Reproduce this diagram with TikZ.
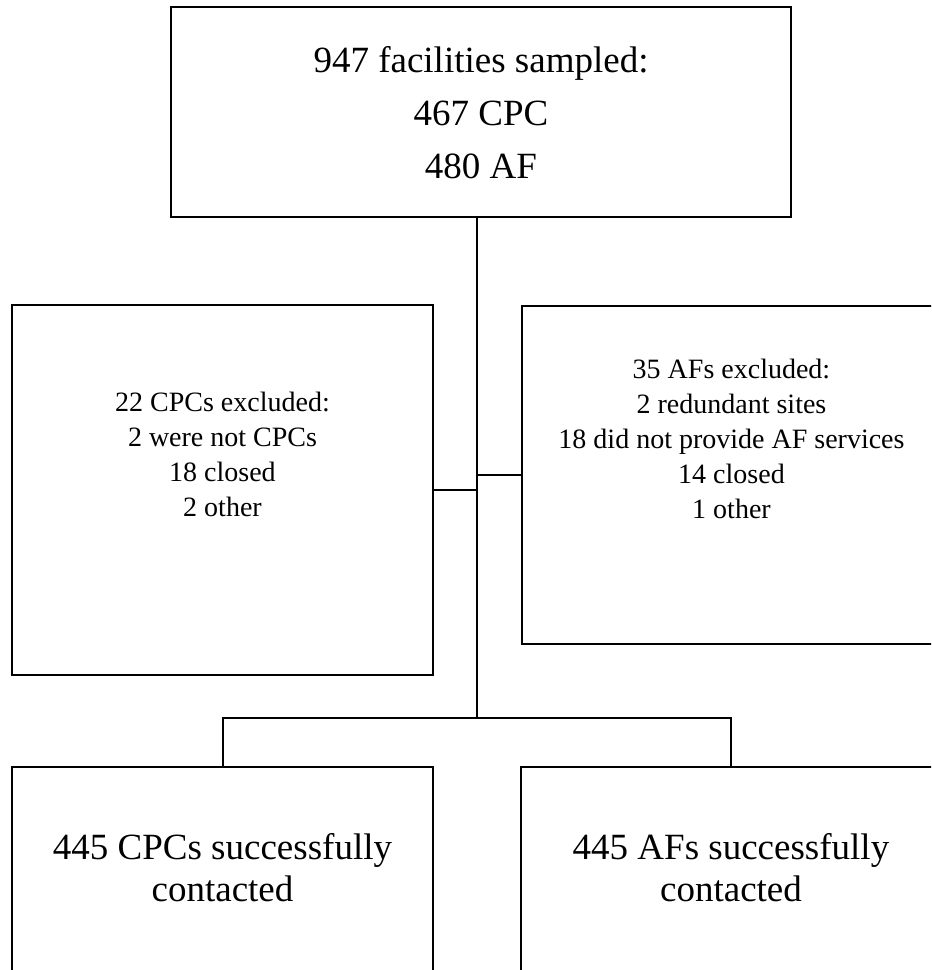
\documentclass[tikz,border=0pt]{standalone}
\usepackage{fontspec}
\setmainfont{Liberation Serif}
\begin{document}
\begin{tikzpicture}[x=0.75pt,y=-0.75pt,
  boxnode/.style={draw=black,line width=1.5pt,rectangle,inner sep=0pt,outer sep=0pt,fill=white},
  conn/.style={draw=black,line width=1.5pt},
  bigtext/.style={align=center,inner sep=0pt,font=\fontsize{27.75pt}{39.75pt}\selectfont},
  midtext/.style={align=center,inner sep=0pt,font=\fontsize{21pt}{26.25pt}\selectfont},
  bottext/.style={align=center,inner sep=0pt,font=\fontsize{27.75pt}{31.5pt}\selectfont}]
\useasboundingbox (0,0) rectangle (931,970);
\clip (0,0) rectangle (931,970);
\fill[white] (0,0) rectangle (931,970);
% boxes
\node[boxnode,minimum width=465pt,minimum height=157.5pt] (T) at (481,112) {};
\node[boxnode,minimum width=315.75pt,minimum height=277.5pt] (L) at (222.5,490) {};
\node[boxnode,minimum width=314.25pt,minimum height=253.5pt] (R) at (731.5,475) {};
\node[boxnode,minimum width=315.75pt,minimum height=182.25pt] (BL) at (222.5,888.5) {};
\node[boxnode,minimum width=315pt,minimum height=182.25pt] (BR) at (731,888.5) {};
% texts
\node[bigtext] (Tt) at (481,113) {947 facilities sampled:\\467 CPC\\480 AF};
\node[midtext] (Lt) at (222.5,454) {22 CPCs excluded:\\2 were not CPCs\\18 closed\\2 other};
\node[midtext] (Rt) at (731.5,439) {35 AFs excluded:\\2 redundant sites\\18 did not provide AF services\\14 closed\\1 other};
\node[bottext] (BLt) at (222.5,868) {445 CPCs successfully\\contacted};
\node[bottext] (BRt) at (731,868) {445 AFs successfully\\contacted};
% connectors
\coordinate (J) at (477,718);
\draw[conn,line width=2pt] (T.south -| J) -- (J);
\draw[conn] (L.east) -- (L.east -| J);
\draw[conn] (R.west) -- (R.west -| J);
\draw[conn] (BL.north) |- (J) -| (BR.north);
\end{tikzpicture}
\end{document}
